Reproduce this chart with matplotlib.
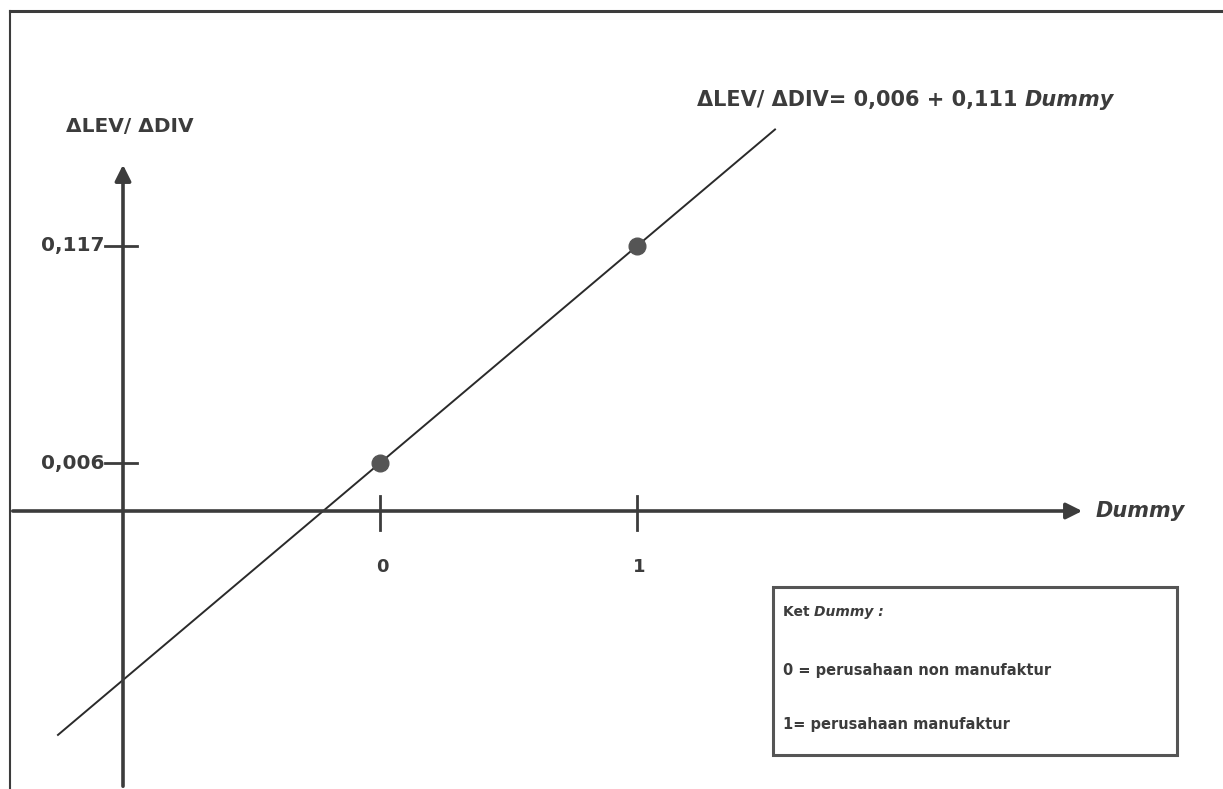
import numpy as np
import matplotlib
matplotlib.use("Agg")
import matplotlib.pyplot as plt
from matplotlib.patches import Rectangle

# regression: dLEV/dDIV = 0.006 + 0.111 * Dummy
intercept = 0.006
slope = 0.111
dummy_vals = [0, 1]
fitted_vals = [0.006, 0.117]
ytick_vals = [0.006, 0.117]
ytick_labels = ["0,006", "0,117"]
xtick_vals = [0, 1]
xtick_labels = ["0", "1"]
line_range = [-1.253, 1.537]

W, H = 1223, 789
# pixel -> data helpers, only used to place the schematic frame / texts
def px(p):
    return (p - 380) / 257.0

def py(p):
    return 0.006 + (463 - p) / 1955.0

ink = "#3c3c3c"
matplotlib.rcParams.update({'font.family': 'DejaVu Sans'})

fig = plt.figure(figsize=(W / 100, H / 100), dpi=100)
ax = fig.add_axes([0, 0, 1, 1])
ax.set_xlim(px(0), px(W))
ax.set_ylim(py(H), py(0))
ax.axis("off")

# outer frame (top + left edge of the scanned box)
ax.plot([px(10), px(W)], [py(11), py(11)], color=ink, lw=2.2)
ax.plot([px(10), px(10)], [py(11), py(H)], color=ink, lw=1.5)

# axes with arrows
x_axis_y = py(511)
y_axis_x = px(123)
ax.annotate("", xy=(px(1085), x_axis_y), xytext=(px(10), x_axis_y),
            arrowprops=dict(arrowstyle="-|>", lw=2.6, color=ink, mutation_scale=24))
ax.annotate("", xy=(y_axis_x, py(162)), xytext=(y_axis_x, py(H)),
            arrowprops=dict(arrowstyle="-|>", lw=2.6, color=ink, mutation_scale=24))

# ticks
for xv, lab in zip(xtick_vals, xtick_labels):
    ax.plot([xv, xv], [py(496), py(530)], color=ink, lw=2)
    ax.text(xv + 0.01, py(567), lab, ha="center", va="center", fontsize=13,
            fontweight="bold", color=ink)
for yv, lab in zip(ytick_vals, ytick_labels):
    ax.plot([px(105), px(137)], [yv, yv], color=ink, lw=2)
    ax.text(px(104), yv, lab, ha="right", va="center", fontsize=14.5,
            fontweight="bold", color=ink)

# regression line and points
xs = np.array(line_range)
ax.plot(xs, intercept + slope * xs, color="#2a2a2a", lw=1.4)
ax.plot(dummy_vals, fitted_vals, "o", color="#555555", ms=12)

# labels
ax.text(px(130), py(127), "ΔLEV/ ΔDIV", ha="center", va="center", fontsize=14.5,
        fontweight="bold", color=ink)
ax.text(px(1096), x_axis_y, "Dummy", ha="left", va="center", fontsize=15,
        fontweight="bold", style="italic", color=ink)
eq = ax.text(px(697), py(100), "ΔLEV/ ΔDIV= 0,006 + 0,111 ", ha="left",
             va="center", fontsize=15, fontweight="bold", color=ink)
ax.annotate("Dummy", xy=(1, 0.5), xycoords=eq, ha="left", va="center",
            fontsize=15, fontweight="bold", style="italic", color=ink)

# legend box
ax.add_patch(Rectangle((px(773), py(755)), px(1177) - px(773), py(587) - py(755),
                       fill=False, ec="#555555", lw=2.2))
ket = ax.text(px(783), py(612), "Ket ", ha="left", va="center", fontsize=10,
              fontweight="bold", color=ink)
ax.annotate("Dummy :", xy=(1, 0.5), xycoords=ket, ha="left", va="center",
            fontsize=10, fontweight="bold", style="italic", color=ink)
ax.text(px(783), py(670), "0 = perusahaan non manufaktur", ha="left", va="center",
        fontsize=10.5, fontweight="bold", color=ink)
ax.text(px(783), py(724), "1= perusahaan manufaktur", ha="left", va="center",
        fontsize=10.5, fontweight="bold", color=ink)

fig.savefig("out.png", dpi=100, facecolor="white")
